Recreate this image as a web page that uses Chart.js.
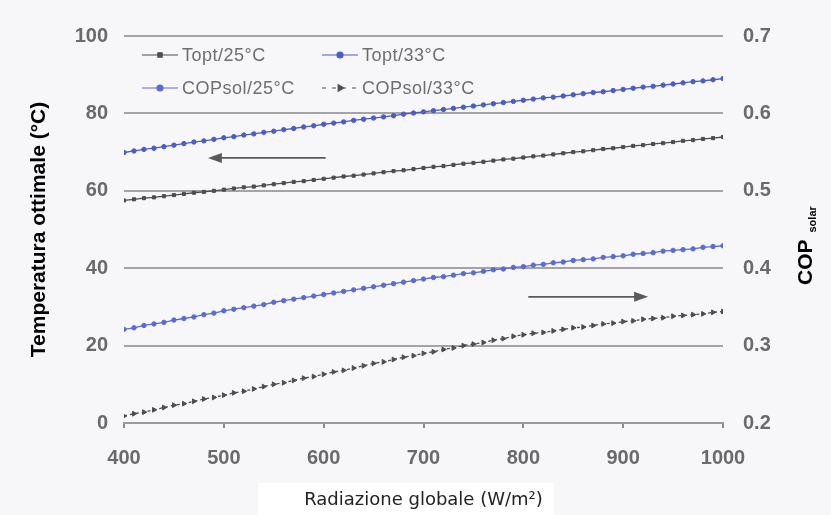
<!DOCTYPE html>
<html>
<head>
<meta charset="utf-8">
<script src="https://cdn.jsdelivr.net/npm/chart.js@4.4.1/dist/chart.umd.min.js"></script>
<style>
  html, body { margin: 0; padding: 0; background: #f7f6f9; }
  #wrap { width: 831px; height: 515px; position: relative; }
</style>
</head>
<body>
<div id="wrap"><canvas id="copChart"></canvas></div>
<script>
// Radiazione globale (W/m2)
const radiation = [400, 410, 420, 430, 440, 450, 460, 470, 480, 490, 500, 510, 520, 530, 540, 550, 560, 570, 580, 590,
    600, 610, 620, 630, 640, 650, 660, 670, 680, 690, 700, 710, 720, 730, 740, 750, 760, 770, 780, 790,
    800, 810, 820, 830, 840, 850, 860, 870, 880, 890, 900, 910, 920, 930, 940, 950, 960, 970, 980, 990, 1000];

// temperatura ottimale (°C), asse sinistro
const toptT25 = [57.5, 57.8, 58.1, 58.3, 58.6, 58.9, 59.2, 59.5, 59.7, 60.0, 60.3, 60.6, 60.9, 61.1, 61.4, 61.7, 62.0, 62.3, 62.5, 62.8,
    63.1, 63.4, 63.7, 63.9, 64.2, 64.5, 64.8, 65.1, 65.3, 65.6, 65.9, 66.2, 66.4, 66.7, 67.0, 67.2, 67.5, 67.8, 68.1, 68.3,
    68.6, 68.9, 69.1, 69.4, 69.7, 70.0, 70.2, 70.5, 70.8, 71.0, 71.3, 71.6, 71.8, 72.1, 72.3, 72.6, 72.9, 73.1, 73.4, 73.6, 73.9];
const toptT33 = [69.9, 70.3, 70.7, 71.0, 71.4, 71.8, 72.2, 72.6, 72.9, 73.3, 73.7, 74.0, 74.4, 74.7, 75.1, 75.4, 75.8, 76.1, 76.5, 76.8,
    77.2, 77.5, 77.8, 78.2, 78.5, 78.8, 79.1, 79.4, 79.8, 80.1, 80.4, 80.7, 81.0, 81.3, 81.6, 81.9, 82.2, 82.5, 82.8, 83.1,
    83.4, 83.7, 84.0, 84.2, 84.5, 84.8, 85.1, 85.4, 85.6, 85.9, 86.2, 86.5, 86.8, 87.0, 87.3, 87.6, 87.9, 88.2, 88.4, 88.7, 89.0];

// COP solar, asse destro
const copT25 = [0.321, 0.323, 0.326, 0.328, 0.330, 0.333, 0.335, 0.337, 0.340, 0.342, 0.345, 0.347, 0.349, 0.351, 0.353, 0.356, 0.358, 0.360, 0.362, 0.364,
    0.366, 0.368, 0.370, 0.372, 0.374, 0.376, 0.378, 0.380, 0.382, 0.384, 0.386, 0.388, 0.389, 0.391, 0.393, 0.394, 0.396, 0.398, 0.399, 0.401,
    0.402, 0.404, 0.405, 0.407, 0.408, 0.410, 0.411, 0.412, 0.414, 0.415, 0.416, 0.418, 0.419, 0.420, 0.422, 0.423, 0.424, 0.425, 0.427, 0.428, 0.429];
const copT33 = [0.209, 0.212, 0.214, 0.217, 0.220, 0.223, 0.225, 0.228, 0.231, 0.233, 0.236, 0.239, 0.241, 0.244, 0.247, 0.250, 0.252, 0.255, 0.258, 0.260,
    0.263, 0.266, 0.268, 0.271, 0.274, 0.277, 0.279, 0.282, 0.285, 0.287, 0.290, 0.292, 0.295, 0.297, 0.300, 0.302, 0.304, 0.307, 0.309, 0.312,
    0.314, 0.316, 0.317, 0.319, 0.321, 0.323, 0.324, 0.326, 0.328, 0.329, 0.331, 0.332, 0.334, 0.335, 0.336, 0.338, 0.339, 0.340, 0.341, 0.343, 0.344];

const seriesNames = ["Topt/25°C", "Topt/33°C", "COPsol/25°C", "COPsol/33°C"];
const xTicks = [400, 500, 600, 700, 800, 900, 1000];
const leftTicks = [0, 20, 40, 60, 80, 100];
const rightTicks = [0.2, 0.3, 0.4, 0.5, 0.6, 0.7];

const DARK = '#4f4b4e';
const BLUE = '#4b5cc9';
const BLUE2 = '#5a6bd6';
const TICK_FONT = { family: "'Liberation Sans', Arial, sans-serif", size: 20, weight: 'bold' };

function pts(ys) {
    return radiation.map((x, i) => ({ x: x, y: ys[i] }));
}

const styles = [
    { color: DARK, pointStyle: 'rect', radius: 2.2, rotation: 0, dash: [] },
    { color: BLUE, pointStyle: 'circle', radius: 2.2, rotation: 0, dash: [] },
    { color: BLUE2, pointStyle: 'circle', radius: 2.2, rotation: 0, dash: [] },
    { color: DARK, pointStyle: 'triangle', radius: 2.8, rotation: 90, dash: [3, 3] }
];

function makeSet(i, ys, axis) {
    let s = styles[i];
    return {
        label: seriesNames[i],
        data: pts(ys),
        yAxisID: axis,
        borderColor: s.color,
        backgroundColor: s.color,
        borderWidth: 1.3,
        borderDash: s.dash,
        pointStyle: s.pointStyle,
        pointRotation: s.rotation,
        pointRadius: s.radius,
        pointBorderWidth: 1,
        pointBorderColor: s.color,
        pointBackgroundColor: s.color,
        fill: false,
        tension: 0
    };
}

const overlay = {
    id: 'overlay',
    beforeDraw(chart) {
        const ctx = chart.ctx;
        ctx.save();
        ctx.fillStyle = '#f7f6f9';
        ctx.fillRect(0, 0, chart.width, chart.height);
        ctx.fillStyle = '#ffffff';
        ctx.fillRect(258, 483, 296, 32);
        ctx.restore();
    },
    afterDraw(chart) {
        const ctx = chart.ctx;
        const xs = chart.scales.x, yl = chart.scales.y;
        ctx.save();

        // legenda 2x2
        const legendPos = [[142, 55], [322, 55], [142, 88], [322, 88]];
        ctx.font = "18px 'Liberation Sans', Arial, sans-serif";
        ctx.textBaseline = 'middle';
        ctx.textAlign = 'left';
        legendPos.forEach((p, i) => {
            let s = styles[i];
            ctx.strokeStyle = s.color;
            ctx.fillStyle = s.color;
            ctx.lineWidth = 1.2;
            ctx.setLineDash(s.dash.length ? [4, 6] : []);
            ctx.beginPath();
            ctx.moveTo(p[0], p[1]);
            ctx.lineTo(p[0] + 36, p[1]);
            ctx.stroke();
            ctx.setLineDash([]);
            Chart.helpers.drawPoint(ctx, { pointStyle: s.pointStyle, radius: s.radius + 0.8, rotation: s.rotation, borderWidth: 1 }, p[0] + 18, p[1]);
            ctx.fillStyle = '#6e6e6e';
            ctx.letterSpacing = '0.5px';
            ctx.fillText(seriesNames[i], p[0] + 40, p[1] + 1);
            ctx.letterSpacing = '0px';
        });

        // frecce
        function arrow(x1, x2, v) {
            let a = xs.getPixelForValue(x1), b = xs.getPixelForValue(x2), y = yl.getPixelForValue(v);
            let dir = b > a ? 1 : -1;
            ctx.strokeStyle = '#5a5a5a';
            ctx.fillStyle = '#5a5a5a';
            ctx.lineWidth = 1.6;
            ctx.beginPath();
            ctx.moveTo(a, y);
            ctx.lineTo(b - dir * 10, y);
            ctx.stroke();
            ctx.beginPath();
            ctx.moveTo(b, y);
            ctx.lineTo(b - dir * 14, y - 5);
            ctx.lineTo(b - dir * 14, y + 5);
            ctx.closePath();
            ctx.fill();
        }
        arrow(602, 484, 68.5);
        arrow(805, 925, 32.6);

        // titolo asse destro: COP con pedice "solar"
        ctx.translate(812, 285);
        ctx.rotate(-Math.PI / 2);
        ctx.fillStyle = '#000';
        ctx.textBaseline = 'alphabetic';
        ctx.font = "bold 21px 'Liberation Sans', Arial, sans-serif";
        ctx.fillText('COP', 0, 0);
        let w = ctx.measureText('COP').width;
        ctx.font = "bold 11px 'Liberation Sans', Arial, sans-serif";
        ctx.fillText('solar', w + 7, 4);
        ctx.restore();
    }
};

new Chart(document.getElementById('copChart'), {
    type: 'line',
    data: {
        datasets: [
            makeSet(0, toptT25, 'y'),
            makeSet(1, toptT33, 'y'),
            makeSet(2, copT25, 'y1'),
            makeSet(3, copT33, 'y1')
        ]
    },
    options: {
        responsive: true,
        maintainAspectRatio: false,
        animation: false,
        layout: { padding: { top: 36, left: 0, right: 0, bottom: 0 } },
        plugins: {
            legend: { display: false },
            tooltip: { enabled: false }
        },
        scales: {
            x: {
                type: 'linear',
                min: 400,
                max: 1000,
                afterBuildTicks: s => { s.ticks = xTicks.map(v => ({ value: v })); },
                afterFit: s => { s.height = 92; },
                grid: { drawOnChartArea: false, drawTicks: true, tickLength: 5, color: '#8a8a8a', lineWidth: 2 },
                border: { display: true, color: '#9a9a9a', width: 2 },
                ticks: { font: TICK_FONT, color: '#6a6a6a', padding: 18, maxRotation: 0, callback: v => String(v) },
                title: {
                    display: true,
                    text: 'Radiazione globale (W/m²)',
                    color: '#222',
                    font: { family: "'DejaVu Sans', sans-serif", size: 18 },
                    padding: { top: 0, bottom: 4 }
                }
            },
            y: {
                position: 'left',
                min: 0,
                max: 100,
                afterBuildTicks: s => { s.ticks = leftTicks.map(v => ({ value: v })); },
                afterFit: s => { s.width = 124; },
                grid: { color: '#a4a4a4', lineWidth: 2, drawTicks: false },
                border: { display: false },
                ticks: { font: TICK_FONT, color: '#6a6a6a', padding: 16 },
                title: {
                    display: true,
                    text: 'Temperatura ottimale (°C)',
                    color: '#000',
                    font: { family: "'Liberation Sans', Arial, sans-serif", size: 21, weight: 'bold' },
                    padding: { top: 27, bottom: 0 }
                }
            },
            y1: {
                position: 'right',
                min: 0.2,
                max: 0.7,
                afterBuildTicks: s => { s.ticks = rightTicks.map(v => ({ value: v })); },
                afterFit: s => { s.width = 108; },
                grid: { display: false, drawTicks: false },
                border: { display: false },
                ticks: { font: TICK_FONT, color: '#6a6a6a', padding: 20, callback: v => v.toFixed(1) }
            }
        }
    },
    plugins: [overlay]
});
</script>
</body>
</html>
